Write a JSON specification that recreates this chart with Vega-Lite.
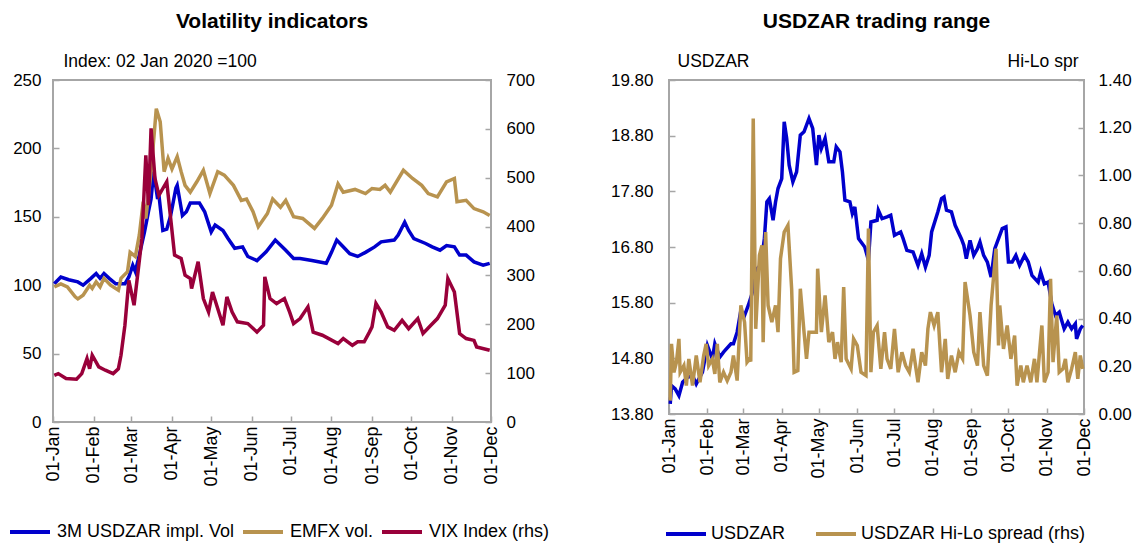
{
"$schema": "https://vega.github.io/schema/vega-lite/v6.json",
"background": "white",
"padding": {"left": 7, "top": 10, "right": 5, "bottom": 5},
"spacing": 58,
"config": {
  "font": "Liberation Sans",
  "view": {"stroke": "#A6A6A6", "strokeWidth": 2},
  "axis": {"domain": false, "grid": false, "labelFont": "Liberation Sans", "labelFontSize": 17, "labelColor": "#000000", "tickColor": "#A6A6A6", "tickSize": -6, "tickWidth": 1.5, "titleFont": "Liberation Sans", "titleFontWeight": "normal", "titleFontSize": 17.5, "titleColor": "#000000"},
  "title": {"font": "Liberation Sans", "fontSize": 21, "fontWeight": "bold", "color": "#000000", "anchor": "middle", "offset": 20},
  "legend": {"labelFont": "Liberation Sans", "labelFontSize": 18, "labelColor": "#000000", "labelLimit": 400}
},
"resolve": {"scale": {"color": "independent"}},
"datasets": {
"left": [
{"d":"2020/01/02","s":"3M USDZAR impl. Vol","v":101},{"d":"2020/01/07","s":"3M USDZAR impl. Vol","v":106},{"d":"2020/01/13","s":"3M USDZAR impl. Vol","v":104},{"d":"2020/01/20","s":"3M USDZAR impl. Vol","v":102.4},{"d":"2020/01/24","s":"3M USDZAR impl. Vol","v":100},{"d":"2020/01/30","s":"3M USDZAR impl. Vol","v":105},{"d":"2020/02/03","s":"3M USDZAR impl. Vol","v":108.5},{"d":"2020/02/06","s":"3M USDZAR impl. Vol","v":105},{"d":"2020/02/09","s":"3M USDZAR impl. Vol","v":108.5},{"d":"2020/02/13","s":"3M USDZAR impl. Vol","v":105},{"d":"2020/02/18","s":"3M USDZAR impl. Vol","v":101},{"d":"2020/02/25","s":"3M USDZAR impl. Vol","v":101},{"d":"2020/02/28","s":"3M USDZAR impl. Vol","v":106},{"d":"2020/03/02","s":"3M USDZAR impl. Vol","v":114.6},{"d":"2020/03/04","s":"3M USDZAR impl. Vol","v":110},{"d":"2020/03/07","s":"3M USDZAR impl. Vol","v":122},{"d":"2020/03/11","s":"3M USDZAR impl. Vol","v":139},{"d":"2020/03/14","s":"3M USDZAR impl. Vol","v":153.7},{"d":"2020/03/16","s":"3M USDZAR impl. Vol","v":163},{"d":"2020/03/18","s":"3M USDZAR impl. Vol","v":183},{"d":"2020/03/21","s":"3M USDZAR impl. Vol","v":163},{"d":"2020/03/22","s":"3M USDZAR impl. Vol","v":166},{"d":"2020/03/25","s":"3M USDZAR impl. Vol","v":140},{"d":"2020/03/28","s":"3M USDZAR impl. Vol","v":141},{"d":"2020/03/31","s":"3M USDZAR impl. Vol","v":151},{"d":"2020/04/04","s":"3M USDZAR impl. Vol","v":171},{"d":"2020/04/05","s":"3M USDZAR impl. Vol","v":173},{"d":"2020/04/09","s":"3M USDZAR impl. Vol","v":151},{"d":"2020/04/12","s":"3M USDZAR impl. Vol","v":153.7},{"d":"2020/04/15","s":"3M USDZAR impl. Vol","v":160},{"d":"2020/04/22","s":"3M USDZAR impl. Vol","v":160},{"d":"2020/04/26","s":"3M USDZAR impl. Vol","v":153.7},{"d":"2020/05/01","s":"3M USDZAR impl. Vol","v":139},{"d":"2020/05/04","s":"3M USDZAR impl. Vol","v":144},{"d":"2020/05/10","s":"3M USDZAR impl. Vol","v":140},{"d":"2020/05/14","s":"3M USDZAR impl. Vol","v":134},{"d":"2020/05/19","s":"3M USDZAR impl. Vol","v":127},{"d":"2020/05/25","s":"3M USDZAR impl. Vol","v":128},{"d":"2020/05/29","s":"3M USDZAR impl. Vol","v":121},{"d":"2020/06/05","s":"3M USDZAR impl. Vol","v":118},{"d":"2020/06/12","s":"3M USDZAR impl. Vol","v":124.4},{"d":"2020/06/19","s":"3M USDZAR impl. Vol","v":133},{"d":"2020/06/27","s":"3M USDZAR impl. Vol","v":125.6},{"d":"2020/07/03","s":"3M USDZAR impl. Vol","v":119.5},{"d":"2020/07/08","s":"3M USDZAR impl. Vol","v":119.5},{"d":"2020/07/17","s":"3M USDZAR impl. Vol","v":118},{"d":"2020/07/28","s":"3M USDZAR impl. Vol","v":116},{"d":"2020/08/01","s":"3M USDZAR impl. Vol","v":124},{"d":"2020/08/05","s":"3M USDZAR impl. Vol","v":133},{"d":"2020/08/09","s":"3M USDZAR impl. Vol","v":129},{"d":"2020/08/15","s":"3M USDZAR impl. Vol","v":123},{"d":"2020/08/21","s":"3M USDZAR impl. Vol","v":121},{"d":"2020/08/27","s":"3M USDZAR impl. Vol","v":124},{"d":"2020/09/03","s":"3M USDZAR impl. Vol","v":128},{"d":"2020/09/08","s":"3M USDZAR impl. Vol","v":131.7},{"d":"2020/09/18","s":"3M USDZAR impl. Vol","v":133},{"d":"2020/09/21","s":"3M USDZAR impl. Vol","v":136.6},{"d":"2020/09/26","s":"3M USDZAR impl. Vol","v":146},{"d":"2020/09/29","s":"3M USDZAR impl. Vol","v":140},{"d":"2020/10/03","s":"3M USDZAR impl. Vol","v":134},{"d":"2020/10/12","s":"3M USDZAR impl. Vol","v":130.5},{"d":"2020/10/17","s":"3M USDZAR impl. Vol","v":128},{"d":"2020/10/23","s":"3M USDZAR impl. Vol","v":125.6},{"d":"2020/10/28","s":"3M USDZAR impl. Vol","v":129},{"d":"2020/11/03","s":"3M USDZAR impl. Vol","v":128},{"d":"2020/11/07","s":"3M USDZAR impl. Vol","v":122},{"d":"2020/11/12","s":"3M USDZAR impl. Vol","v":122},{"d":"2020/11/18","s":"3M USDZAR impl. Vol","v":117},{"d":"2020/11/25","s":"3M USDZAR impl. Vol","v":114.6},{"d":"2020/11/30","s":"3M USDZAR impl. Vol","v":116},
{"d":"2020/01/02","s":"EMFX vol.","v":98.8},{"d":"2020/01/07","s":"EMFX vol.","v":101},{"d":"2020/01/12","s":"EMFX vol.","v":98.8},{"d":"2020/01/18","s":"EMFX vol.","v":91.5},{"d":"2020/01/20","s":"EMFX vol.","v":90},{"d":"2020/01/24","s":"EMFX vol.","v":92.7},{"d":"2020/01/29","s":"EMFX vol.","v":100},{"d":"2020/01/31","s":"EMFX vol.","v":97.6},{"d":"2020/02/03","s":"EMFX vol.","v":102.4},{"d":"2020/02/06","s":"EMFX vol.","v":98.8},{"d":"2020/02/09","s":"EMFX vol.","v":105},{"d":"2020/02/14","s":"EMFX vol.","v":100},{"d":"2020/02/20","s":"EMFX vol.","v":96.3},{"d":"2020/02/22","s":"EMFX vol.","v":105},{"d":"2020/02/27","s":"EMFX vol.","v":109.8},{"d":"2020/02/29","s":"EMFX vol.","v":124},{"d":"2020/03/04","s":"EMFX vol.","v":121},{"d":"2020/03/07","s":"EMFX vol.","v":136.6},{"d":"2020/03/10","s":"EMFX vol.","v":161},{"d":"2020/03/12","s":"EMFX vol.","v":148.8},{"d":"2020/03/16","s":"EMFX vol.","v":183},{"d":"2020/03/20","s":"EMFX vol.","v":229},{"d":"2020/03/23","s":"EMFX vol.","v":219.5},{"d":"2020/03/26","s":"EMFX vol.","v":183},{"d":"2020/03/29","s":"EMFX vol.","v":192.7},{"d":"2020/04/01","s":"EMFX vol.","v":185},{"d":"2020/04/05","s":"EMFX vol.","v":194},{"d":"2020/04/08","s":"EMFX vol.","v":183},{"d":"2020/04/11","s":"EMFX vol.","v":173},{"d":"2020/04/15","s":"EMFX vol.","v":168},{"d":"2020/04/20","s":"EMFX vol.","v":175.6},{"d":"2020/04/25","s":"EMFX vol.","v":184},{"d":"2020/04/30","s":"EMFX vol.","v":167},{"d":"2020/05/06","s":"EMFX vol.","v":183},{"d":"2020/05/11","s":"EMFX vol.","v":180.5},{"d":"2020/05/18","s":"EMFX vol.","v":173},{"d":"2020/05/24","s":"EMFX vol.","v":162},{"d":"2020/05/28","s":"EMFX vol.","v":163},{"d":"2020/06/02","s":"EMFX vol.","v":153.7},{"d":"2020/06/06","s":"EMFX vol.","v":142.7},{"d":"2020/06/13","s":"EMFX vol.","v":152.4},{"d":"2020/06/17","s":"EMFX vol.","v":163},{"d":"2020/06/23","s":"EMFX vol.","v":157},{"d":"2020/06/27","s":"EMFX vol.","v":162},{"d":"2020/07/03","s":"EMFX vol.","v":150},{"d":"2020/07/10","s":"EMFX vol.","v":148.8},{"d":"2020/07/19","s":"EMFX vol.","v":141.5},{"d":"2020/07/25","s":"EMFX vol.","v":148.8},{"d":"2020/08/01","s":"EMFX vol.","v":158.5},{"d":"2020/08/06","s":"EMFX vol.","v":174},{"d":"2020/08/10","s":"EMFX vol.","v":168},{"d":"2020/08/19","s":"EMFX vol.","v":170},{"d":"2020/08/27","s":"EMFX vol.","v":167},{"d":"2020/09/01","s":"EMFX vol.","v":170.7},{"d":"2020/09/07","s":"EMFX vol.","v":170},{"d":"2020/09/11","s":"EMFX vol.","v":173},{"d":"2020/09/15","s":"EMFX vol.","v":168},{"d":"2020/09/25","s":"EMFX vol.","v":184},{"d":"2020/10/02","s":"EMFX vol.","v":178},{"d":"2020/10/09","s":"EMFX vol.","v":173},{"d":"2020/10/14","s":"EMFX vol.","v":167},{"d":"2020/10/21","s":"EMFX vol.","v":164.6},{"d":"2020/10/28","s":"EMFX vol.","v":175.6},{"d":"2020/11/03","s":"EMFX vol.","v":178},{"d":"2020/11/05","s":"EMFX vol.","v":161},{"d":"2020/11/12","s":"EMFX vol.","v":162},{"d":"2020/11/18","s":"EMFX vol.","v":156},{"d":"2020/11/25","s":"EMFX vol.","v":153.7},{"d":"2020/11/30","s":"EMFX vol.","v":151},
{"d":"2020/01/02","s":"VIX Index (rhs)","v":95.6},{"d":"2020/01/05","s":"VIX Index (rhs)","v":99},{"d":"2020/01/11","s":"VIX Index (rhs)","v":89},{"d":"2020/01/19","s":"VIX Index (rhs)","v":87.4},{"d":"2020/01/23","s":"VIX Index (rhs)","v":99},{"d":"2020/01/27","s":"VIX Index (rhs)","v":129.8},{"d":"2020/01/29","s":"VIX Index (rhs)","v":109},{"d":"2020/01/31","s":"VIX Index (rhs)","v":136.6},{"d":"2020/02/05","s":"VIX Index (rhs)","v":112.7},{"d":"2020/02/10","s":"VIX Index (rhs)","v":106},{"d":"2020/02/16","s":"VIX Index (rhs)","v":99},{"d":"2020/02/20","s":"VIX Index (rhs)","v":109},{"d":"2020/02/22","s":"VIX Index (rhs)","v":136.6},{"d":"2020/02/25","s":"VIX Index (rhs)","v":198},{"d":"2020/02/28","s":"VIX Index (rhs)","v":290},{"d":"2020/03/03","s":"VIX Index (rhs)","v":239},{"d":"2020/03/06","s":"VIX Index (rhs)","v":307},{"d":"2020/03/09","s":"VIX Index (rhs)","v":375.7},{"d":"2020/03/12","s":"VIX Index (rhs)","v":546},{"d":"2020/03/14","s":"VIX Index (rhs)","v":444},{"d":"2020/03/16","s":"VIX Index (rhs)","v":601},{"d":"2020/03/19","s":"VIX Index (rhs)","v":498.6},{"d":"2020/03/22","s":"VIX Index (rhs)","v":464},{"d":"2020/03/28","s":"VIX Index (rhs)","v":491.8},{"d":"2020/04/03","s":"VIX Index (rhs)","v":341.5},{"d":"2020/04/08","s":"VIX Index (rhs)","v":334.7},{"d":"2020/04/11","s":"VIX Index (rhs)","v":300.5},{"d":"2020/04/15","s":"VIX Index (rhs)","v":293.7},{"d":"2020/04/16","s":"VIX Index (rhs)","v":273},{"d":"2020/04/21","s":"VIX Index (rhs)","v":328},{"d":"2020/04/25","s":"VIX Index (rhs)","v":252.7},{"d":"2020/04/29","s":"VIX Index (rhs)","v":225},{"d":"2020/05/02","s":"VIX Index (rhs)","v":266},{"d":"2020/05/10","s":"VIX Index (rhs)","v":198},{"d":"2020/05/13","s":"VIX Index (rhs)","v":256},{"d":"2020/05/17","s":"VIX Index (rhs)","v":225},{"d":"2020/05/21","s":"VIX Index (rhs)","v":205},{"d":"2020/05/29","s":"VIX Index (rhs)","v":201.5},{"d":"2020/06/05","s":"VIX Index (rhs)","v":184},{"d":"2020/06/10","s":"VIX Index (rhs)","v":198},{"d":"2020/06/11","s":"VIX Index (rhs)","v":297},{"d":"2020/06/15","s":"VIX Index (rhs)","v":252.7},{"d":"2020/06/20","s":"VIX Index (rhs)","v":242.5},{"d":"2020/06/26","s":"VIX Index (rhs)","v":252.7},{"d":"2020/06/30","s":"VIX Index (rhs)","v":225},{"d":"2020/07/03","s":"VIX Index (rhs)","v":201.5},{"d":"2020/07/08","s":"VIX Index (rhs)","v":211.7},{"d":"2020/07/14","s":"VIX Index (rhs)","v":235.7},{"d":"2020/07/18","s":"VIX Index (rhs)","v":184},{"d":"2020/07/25","s":"VIX Index (rhs)","v":177.6},{"d":"2020/08/06","s":"VIX Index (rhs)","v":160.5},{"d":"2020/08/10","s":"VIX Index (rhs)","v":170.8},{"d":"2020/08/17","s":"VIX Index (rhs)","v":157},{"d":"2020/08/21","s":"VIX Index (rhs)","v":164},{"d":"2020/08/26","s":"VIX Index (rhs)","v":164},{"d":"2020/08/30","s":"VIX Index (rhs)","v":184},{"d":"2020/09/01","s":"VIX Index (rhs)","v":194.7},{"d":"2020/09/04","s":"VIX Index (rhs)","v":242.5},{"d":"2020/09/08","s":"VIX Index (rhs)","v":225},{"d":"2020/09/13","s":"VIX Index (rhs)","v":194.7},{"d":"2020/09/18","s":"VIX Index (rhs)","v":187.8},{"d":"2020/09/24","s":"VIX Index (rhs)","v":208},{"d":"2020/09/29","s":"VIX Index (rhs)","v":191},{"d":"2020/10/06","s":"VIX Index (rhs)","v":211.7},{"d":"2020/10/10","s":"VIX Index (rhs)","v":181},{"d":"2020/10/16","s":"VIX Index (rhs)","v":198},{"d":"2020/10/21","s":"VIX Index (rhs)","v":211.7},{"d":"2020/10/27","s":"VIX Index (rhs)","v":239},{"d":"2020/10/29","s":"VIX Index (rhs)","v":293.7},{"d":"2020/11/03","s":"VIX Index (rhs)","v":266},{"d":"2020/11/07","s":"VIX Index (rhs)","v":181},{"d":"2020/11/12","s":"VIX Index (rhs)","v":170.8},{"d":"2020/11/18","s":"VIX Index (rhs)","v":167},{"d":"2020/11/20","s":"VIX Index (rhs)","v":153.7},{"d":"2020/11/30","s":"VIX Index (rhs)","v":147}
],
"right": [
{"d":"2020/01/02","s":"USDZAR","v":13.98},{"d":"2020/01/03","s":"USDZAR","v":14.31},{"d":"2020/01/06","s":"USDZAR","v":14.25},{"d":"2020/01/09","s":"USDZAR","v":14.13},{"d":"2020/01/12","s":"USDZAR","v":14.37},{"d":"2020/01/16","s":"USDZAR","v":14.46},{"d":"2020/01/20","s":"USDZAR","v":14.49},{"d":"2020/01/23","s":"USDZAR","v":14.34},{"d":"2020/01/28","s":"USDZAR","v":14.55},{"d":"2020/02/01","s":"USDZAR","v":15.03},{"d":"2020/02/05","s":"USDZAR","v":14.79},{"d":"2020/02/07","s":"USDZAR","v":15.06},{"d":"2020/02/11","s":"USDZAR","v":14.82},{"d":"2020/02/14","s":"USDZAR","v":14.91},{"d":"2020/02/20","s":"USDZAR","v":15.06},{"d":"2020/02/22","s":"USDZAR","v":15.06},{"d":"2020/02/25","s":"USDZAR","v":15.27},{"d":"2020/02/28","s":"USDZAR","v":15.66},{"d":"2020/03/02","s":"USDZAR","v":15.57},{"d":"2020/03/05","s":"USDZAR","v":15.75},{"d":"2020/03/08","s":"USDZAR","v":15.96},{"d":"2020/03/12","s":"USDZAR","v":16.41},{"d":"2020/03/15","s":"USDZAR","v":16.47},{"d":"2020/03/18","s":"USDZAR","v":16.95},{"d":"2020/03/20","s":"USDZAR","v":17.61},{"d":"2020/03/22","s":"USDZAR","v":17.67},{"d":"2020/03/25","s":"USDZAR","v":17.28},{"d":"2020/03/27","s":"USDZAR","v":17.61},{"d":"2020/03/29","s":"USDZAR","v":17.85},{"d":"2020/04/01","s":"USDZAR","v":18.03},{"d":"2020/04/03","s":"USDZAR","v":19.05},{"d":"2020/04/05","s":"USDZAR","v":18.75},{"d":"2020/04/07","s":"USDZAR","v":18.27},{"d":"2020/04/10","s":"USDZAR","v":17.97},{"d":"2020/04/13","s":"USDZAR","v":18.15},{"d":"2020/04/16","s":"USDZAR","v":18.81},{"d":"2020/04/19","s":"USDZAR","v":18.87},{"d":"2020/04/23","s":"USDZAR","v":19.11},{"d":"2020/04/26","s":"USDZAR","v":18.93},{"d":"2020/04/29","s":"USDZAR","v":18.27},{"d":"2020/05/01","s":"USDZAR","v":18.81},{"d":"2020/05/03","s":"USDZAR","v":18.57},{"d":"2020/05/06","s":"USDZAR","v":18.75},{"d":"2020/05/09","s":"USDZAR","v":18.33},{"d":"2020/05/13","s":"USDZAR","v":18.33},{"d":"2020/05/15","s":"USDZAR","v":18.6},{"d":"2020/05/18","s":"USDZAR","v":18.51},{"d":"2020/05/20","s":"USDZAR","v":18.15},{"d":"2020/05/22","s":"USDZAR","v":17.64},{"d":"2020/05/26","s":"USDZAR","v":17.61},{"d":"2020/05/28","s":"USDZAR","v":17.4},{"d":"2020/05/30","s":"USDZAR","v":17.52},{"d":"2020/06/02","s":"USDZAR","v":16.95},{"d":"2020/06/07","s":"USDZAR","v":16.8},{"d":"2020/06/10","s":"USDZAR","v":16.56},{"d":"2020/06/12","s":"USDZAR","v":17.25},{"d":"2020/06/17","s":"USDZAR","v":17.28},{"d":"2020/06/18","s":"USDZAR","v":17.46},{"d":"2020/06/21","s":"USDZAR","v":17.31},{"d":"2020/06/25","s":"USDZAR","v":17.34},{"d":"2020/06/28","s":"USDZAR","v":17.37},{"d":"2020/07/01","s":"USDZAR","v":17.01},{"d":"2020/07/06","s":"USDZAR","v":17.07},{"d":"2020/07/08","s":"USDZAR","v":16.95},{"d":"2020/07/11","s":"USDZAR","v":16.74},{"d":"2020/07/16","s":"USDZAR","v":16.71},{"d":"2020/07/20","s":"USDZAR","v":16.47},{"d":"2020/07/23","s":"USDZAR","v":16.68},{"d":"2020/07/26","s":"USDZAR","v":16.44},{"d":"2020/07/29","s":"USDZAR","v":16.65},{"d":"2020/07/31","s":"USDZAR","v":17.07},{"d":"2020/08/05","s":"USDZAR","v":17.43},{"d":"2020/08/08","s":"USDZAR","v":17.67},{"d":"2020/08/10","s":"USDZAR","v":17.7},{"d":"2020/08/12","s":"USDZAR","v":17.46},{"d":"2020/08/16","s":"USDZAR","v":17.43},{"d":"2020/08/19","s":"USDZAR","v":17.19},{"d":"2020/08/24","s":"USDZAR","v":16.95},{"d":"2020/08/26","s":"USDZAR","v":16.83},{"d":"2020/08/28","s":"USDZAR","v":16.59},{"d":"2020/08/31","s":"USDZAR","v":16.92},{"d":"2020/09/03","s":"USDZAR","v":16.65},{"d":"2020/09/06","s":"USDZAR","v":16.77},{"d":"2020/09/08","s":"USDZAR","v":16.89},{"d":"2020/09/11","s":"USDZAR","v":16.65},{"d":"2020/09/14","s":"USDZAR","v":16.53},{"d":"2020/09/17","s":"USDZAR","v":16.26},{"d":"2020/09/20","s":"USDZAR","v":16.77},{"d":"2020/09/23","s":"USDZAR","v":16.95},{"d":"2020/09/26","s":"USDZAR","v":17.13},{"d":"2020/09/29","s":"USDZAR","v":17.16},{"d":"2020/10/01","s":"USDZAR","v":16.53},{"d":"2020/10/04","s":"USDZAR","v":16.53},{"d":"2020/10/07","s":"USDZAR","v":16.65},{"d":"2020/10/10","s":"USDZAR","v":16.47},{"d":"2020/10/14","s":"USDZAR","v":16.65},{"d":"2020/10/17","s":"USDZAR","v":16.53},{"d":"2020/10/20","s":"USDZAR","v":16.29},{"d":"2020/10/25","s":"USDZAR","v":16.17},{"d":"2020/10/27","s":"USDZAR","v":16.35},{"d":"2020/10/30","s":"USDZAR","v":16.14},{"d":"2020/11/02","s":"USDZAR","v":16.17},{"d":"2020/11/05","s":"USDZAR","v":15.78},{"d":"2020/11/08","s":"USDZAR","v":15.57},{"d":"2020/11/11","s":"USDZAR","v":15.63},{"d":"2020/11/15","s":"USDZAR","v":15.33},{"d":"2020/11/18","s":"USDZAR","v":15.45},{"d":"2020/11/21","s":"USDZAR","v":15.33},{"d":"2020/11/24","s":"USDZAR","v":15.42},{"d":"2020/11/25","s":"USDZAR","v":15.15},{"d":"2020/11/28","s":"USDZAR","v":15.33},{"d":"2020/11/30","s":"USDZAR","v":15.39},
{"d":"2020/01/02","s":"USDZAR Hi-Lo spread (rhs)","v":0.056},{"d":"2020/01/03","s":"USDZAR Hi-Lo spread (rhs)","v":0.294},{"d":"2020/01/05","s":"USDZAR Hi-Lo spread (rhs)","v":0.175},{"d":"2020/01/07","s":"USDZAR Hi-Lo spread (rhs)","v":0.217},{"d":"2020/01/09","s":"USDZAR Hi-Lo spread (rhs)","v":0.315},{"d":"2020/01/10","s":"USDZAR Hi-Lo spread (rhs)","v":0.175},{"d":"2020/01/13","s":"USDZAR Hi-Lo spread (rhs)","v":0.203},{"d":"2020/01/15","s":"USDZAR Hi-Lo spread (rhs)","v":0.119},{"d":"2020/01/17","s":"USDZAR Hi-Lo spread (rhs)","v":0.231},{"d":"2020/01/20","s":"USDZAR Hi-Lo spread (rhs)","v":0.119},{"d":"2020/01/23","s":"USDZAR Hi-Lo spread (rhs)","v":0.245},{"d":"2020/01/26","s":"USDZAR Hi-Lo spread (rhs)","v":0.133},{"d":"2020/01/29","s":"USDZAR Hi-Lo spread (rhs)","v":0.245},{"d":"2020/01/31","s":"USDZAR Hi-Lo spread (rhs)","v":0.294},{"d":"2020/02/02","s":"USDZAR Hi-Lo spread (rhs)","v":0.203},{"d":"2020/02/05","s":"USDZAR Hi-Lo spread (rhs)","v":0.231},{"d":"2020/02/07","s":"USDZAR Hi-Lo spread (rhs)","v":0.168},{"d":"2020/02/09","s":"USDZAR Hi-Lo spread (rhs)","v":0.294},{"d":"2020/02/11","s":"USDZAR Hi-Lo spread (rhs)","v":0.133},{"d":"2020/02/14","s":"USDZAR Hi-Lo spread (rhs)","v":0.175},{"d":"2020/02/17","s":"USDZAR Hi-Lo spread (rhs)","v":0.14},{"d":"2020/02/20","s":"USDZAR Hi-Lo spread (rhs)","v":0.175},{"d":"2020/02/22","s":"USDZAR Hi-Lo spread (rhs)","v":0.245},{"d":"2020/02/25","s":"USDZAR Hi-Lo spread (rhs)","v":0.14},{"d":"2020/02/28","s":"USDZAR Hi-Lo spread (rhs)","v":0.455},{"d":"2020/03/02","s":"USDZAR Hi-Lo spread (rhs)","v":0.385},{"d":"2020/03/04","s":"USDZAR Hi-Lo spread (rhs)","v":0.217},{"d":"2020/03/06","s":"USDZAR Hi-Lo spread (rhs)","v":0.231},{"d":"2020/03/07","s":"USDZAR Hi-Lo spread (rhs)","v":0.22},{"d":"2020/03/09","s":"USDZAR Hi-Lo spread (rhs)","v":1.239},{"d":"2020/03/11","s":"USDZAR Hi-Lo spread (rhs)","v":0.357},{"d":"2020/03/14","s":"USDZAR Hi-Lo spread (rhs)","v":0.665},{"d":"2020/03/16","s":"USDZAR Hi-Lo spread (rhs)","v":0.707},{"d":"2020/03/17","s":"USDZAR Hi-Lo spread (rhs)","v":0.301},{"d":"2020/03/19","s":"USDZAR Hi-Lo spread (rhs)","v":0.763},{"d":"2020/03/21","s":"USDZAR Hi-Lo spread (rhs)","v":0.455},{"d":"2020/03/24","s":"USDZAR Hi-Lo spread (rhs)","v":0.385},{"d":"2020/03/27","s":"USDZAR Hi-Lo spread (rhs)","v":0.455},{"d":"2020/03/29","s":"USDZAR Hi-Lo spread (rhs)","v":0.343},{"d":"2020/03/31","s":"USDZAR Hi-Lo spread (rhs)","v":0.651},{"d":"2020/04/03","s":"USDZAR Hi-Lo spread (rhs)","v":0.763},{"d":"2020/04/06","s":"USDZAR Hi-Lo spread (rhs)","v":0.791},{"d":"2020/04/09","s":"USDZAR Hi-Lo spread (rhs)","v":0.525},{"d":"2020/04/11","s":"USDZAR Hi-Lo spread (rhs)","v":0.175},{"d":"2020/04/14","s":"USDZAR Hi-Lo spread (rhs)","v":0.182},{"d":"2020/04/16","s":"USDZAR Hi-Lo spread (rhs)","v":0.525},{"d":"2020/04/19","s":"USDZAR Hi-Lo spread (rhs)","v":0.343},{"d":"2020/04/21","s":"USDZAR Hi-Lo spread (rhs)","v":0.231},{"d":"2020/04/23","s":"USDZAR Hi-Lo spread (rhs)","v":0.343},{"d":"2020/04/26","s":"USDZAR Hi-Lo spread (rhs)","v":0.343},{"d":"2020/04/29","s":"USDZAR Hi-Lo spread (rhs)","v":0.343},{"d":"2020/04/30","s":"USDZAR Hi-Lo spread (rhs)","v":0.609},{"d":"2020/05/03","s":"USDZAR Hi-Lo spread (rhs)","v":0.343},{"d":"2020/05/06","s":"USDZAR Hi-Lo spread (rhs)","v":0.497},{"d":"2020/05/09","s":"USDZAR Hi-Lo spread (rhs)","v":0.301},{"d":"2020/05/12","s":"USDZAR Hi-Lo spread (rhs)","v":0.343},{"d":"2020/05/14","s":"USDZAR Hi-Lo spread (rhs)","v":0.231},{"d":"2020/05/16","s":"USDZAR Hi-Lo spread (rhs)","v":0.301},{"d":"2020/05/19","s":"USDZAR Hi-Lo spread (rhs)","v":0.217},{"d":"2020/05/21","s":"USDZAR Hi-Lo spread (rhs)","v":0.532},{"d":"2020/05/23","s":"USDZAR Hi-Lo spread (rhs)","v":0.231},{"d":"2020/05/27","s":"USDZAR Hi-Lo spread (rhs)","v":0.189},{"d":"2020/05/29","s":"USDZAR Hi-Lo spread (rhs)","v":0.315},{"d":"2020/06/01","s":"USDZAR Hi-Lo spread (rhs)","v":0.287},{"d":"2020/06/04","s":"USDZAR Hi-Lo spread (rhs)","v":0.175},{"d":"2020/06/08","s":"USDZAR Hi-Lo spread (rhs)","v":0.161},{"d":"2020/06/10","s":"USDZAR Hi-Lo spread (rhs)","v":0.777},{"d":"2020/06/12","s":"USDZAR Hi-Lo spread (rhs)","v":0.175},{"d":"2020/06/14","s":"USDZAR Hi-Lo spread (rhs)","v":0.343},{"d":"2020/06/17","s":"USDZAR Hi-Lo spread (rhs)","v":0.371},{"d":"2020/06/20","s":"USDZAR Hi-Lo spread (rhs)","v":0.189},{"d":"2020/06/23","s":"USDZAR Hi-Lo spread (rhs)","v":0.343},{"d":"2020/06/25","s":"USDZAR Hi-Lo spread (rhs)","v":0.231},{"d":"2020/06/28","s":"USDZAR Hi-Lo spread (rhs)","v":0.189},{"d":"2020/07/01","s":"USDZAR Hi-Lo spread (rhs)","v":0.357},{"d":"2020/07/04","s":"USDZAR Hi-Lo spread (rhs)","v":0.175},{"d":"2020/07/07","s":"USDZAR Hi-Lo spread (rhs)","v":0.259},{"d":"2020/07/10","s":"USDZAR Hi-Lo spread (rhs)","v":0.203},{"d":"2020/07/13","s":"USDZAR Hi-Lo spread (rhs)","v":0.175},{"d":"2020/07/16","s":"USDZAR Hi-Lo spread (rhs)","v":0.273},{"d":"2020/07/20","s":"USDZAR Hi-Lo spread (rhs)","v":0.133},{"d":"2020/07/23","s":"USDZAR Hi-Lo spread (rhs)","v":0.259},{"d":"2020/07/26","s":"USDZAR Hi-Lo spread (rhs)","v":0.203},{"d":"2020/07/28","s":"USDZAR Hi-Lo spread (rhs)","v":0.357},{"d":"2020/07/30","s":"USDZAR Hi-Lo spread (rhs)","v":0.427},{"d":"2020/08/02","s":"USDZAR Hi-Lo spread (rhs)","v":0.371},{"d":"2020/08/05","s":"USDZAR Hi-Lo spread (rhs)","v":0.427},{"d":"2020/08/08","s":"USDZAR Hi-Lo spread (rhs)","v":0.175},{"d":"2020/08/11","s":"USDZAR Hi-Lo spread (rhs)","v":0.315},{"d":"2020/08/13","s":"USDZAR Hi-Lo spread (rhs)","v":0.147},{"d":"2020/08/16","s":"USDZAR Hi-Lo spread (rhs)","v":0.245},{"d":"2020/08/19","s":"USDZAR Hi-Lo spread (rhs)","v":0.175},{"d":"2020/08/22","s":"USDZAR Hi-Lo spread (rhs)","v":0.259},{"d":"2020/08/25","s":"USDZAR Hi-Lo spread (rhs)","v":0.231},{"d":"2020/08/27","s":"USDZAR Hi-Lo spread (rhs)","v":0.553},{"d":"2020/08/31","s":"USDZAR Hi-Lo spread (rhs)","v":0.413},{"d":"2020/09/03","s":"USDZAR Hi-Lo spread (rhs)","v":0.259},{"d":"2020/09/06","s":"USDZAR Hi-Lo spread (rhs)","v":0.203},{"d":"2020/09/08","s":"USDZAR Hi-Lo spread (rhs)","v":0.427},{"d":"2020/09/11","s":"USDZAR Hi-Lo spread (rhs)","v":0.203},{"d":"2020/09/14","s":"USDZAR Hi-Lo spread (rhs)","v":0.161},{"d":"2020/09/17","s":"USDZAR Hi-Lo spread (rhs)","v":0.455},{"d":"2020/09/21","s":"USDZAR Hi-Lo spread (rhs)","v":0.693},{"d":"2020/09/23","s":"USDZAR Hi-Lo spread (rhs)","v":0.287},{"d":"2020/09/24","s":"USDZAR Hi-Lo spread (rhs)","v":0.455},{"d":"2020/09/27","s":"USDZAR Hi-Lo spread (rhs)","v":0.273},{"d":"2020/09/30","s":"USDZAR Hi-Lo spread (rhs)","v":0.371},{"d":"2020/10/03","s":"USDZAR Hi-Lo spread (rhs)","v":0.231},{"d":"2020/10/06","s":"USDZAR Hi-Lo spread (rhs)","v":0.329},{"d":"2020/10/08","s":"USDZAR Hi-Lo spread (rhs)","v":0.119},{"d":"2020/10/11","s":"USDZAR Hi-Lo spread (rhs)","v":0.203},{"d":"2020/10/13","s":"USDZAR Hi-Lo spread (rhs)","v":0.133},{"d":"2020/10/16","s":"USDZAR Hi-Lo spread (rhs)","v":0.203},{"d":"2020/10/19","s":"USDZAR Hi-Lo spread (rhs)","v":0.133},{"d":"2020/10/22","s":"USDZAR Hi-Lo spread (rhs)","v":0.231},{"d":"2020/10/24","s":"USDZAR Hi-Lo spread (rhs)","v":0.133},{"d":"2020/10/28","s":"USDZAR Hi-Lo spread (rhs)","v":0.371},{"d":"2020/10/30","s":"USDZAR Hi-Lo spread (rhs)","v":0.133},{"d":"2020/11/02","s":"USDZAR Hi-Lo spread (rhs)","v":0.175},{"d":"2020/11/04","s":"USDZAR Hi-Lo spread (rhs)","v":0.567},{"d":"2020/11/06","s":"USDZAR Hi-Lo spread (rhs)","v":0.217},{"d":"2020/11/09","s":"USDZAR Hi-Lo spread (rhs)","v":0.413},{"d":"2020/11/11","s":"USDZAR Hi-Lo spread (rhs)","v":0.175},{"d":"2020/11/14","s":"USDZAR Hi-Lo spread (rhs)","v":0.189},{"d":"2020/11/16","s":"USDZAR Hi-Lo spread (rhs)","v":0.231},{"d":"2020/11/18","s":"USDZAR Hi-Lo spread (rhs)","v":0.133},{"d":"2020/11/21","s":"USDZAR Hi-Lo spread (rhs)","v":0.189},{"d":"2020/11/24","s":"USDZAR Hi-Lo spread (rhs)","v":0.259},{"d":"2020/11/26","s":"USDZAR Hi-Lo spread (rhs)","v":0.147},{"d":"2020/11/28","s":"USDZAR Hi-Lo spread (rhs)","v":0.245},{"d":"2020/11/30","s":"USDZAR Hi-Lo spread (rhs)","v":0.189}
]
},
"hconcat": [
{
  "width": 438, "height": 342,
  "title": {"text": "Volatility indicators"},
  "data": {"name": "left"},
  "encoding": {
    "x": {"field": "d", "type": "temporal",
      "scale": {"domain": [{"year": 2020, "month": 1, "date": 1}, {"year": 2020, "month": 12, "date": 1}]},
      "axis": {"title": null, "format": "%d-%b", "labelAngle": -90, "labelFontSize": 18, "labelPadding": 10,
        "values": [{"year":2020,"month":1,"date":1},{"year":2020,"month":2,"date":1},{"year":2020,"month":3,"date":1},{"year":2020,"month":4,"date":1},{"year":2020,"month":5,"date":1},{"year":2020,"month":6,"date":1},{"year":2020,"month":7,"date":1},{"year":2020,"month":8,"date":1},{"year":2020,"month":9,"date":1},{"year":2020,"month":10,"date":1},{"year":2020,"month":11,"date":1},{"year":2020,"month":12,"date":1}]}},
    "color": {"field": "s", "type": "nominal",
      "scale": {"domain": ["3M USDZAR impl. Vol", "EMFX vol.", "VIX Index (rhs)"], "range": ["#0000CC", "#B8934F", "#99003A"]},
      "legend": {"orient": "none", "legendX": -45, "legendY": 430, "direction": "horizontal", "title": null, "symbolType": "stroke", "symbolSize": 1600, "symbolStrokeWidth": 4, "columnPadding": 0, "labelOffset": 5, "padding": 0}}
  },
  "layer": [
    {"transform": [{"filter": "datum.s != 'VIX Index (rhs)'"}],
     "mark": {"type": "line", "strokeWidth": 3.5},
     "encoding": {"y": {"field": "v", "type": "quantitative", "scale": {"domain": [0, 250], "nice": false},
       "axis": {"orient": "left", "values": [0, 50, 100, 150, 200, 250], "labelPadding": 18,
         "title": "Index: 02 Jan 2020 =100", "titleAngle": 0, "titleAlign": "left", "titleBaseline": "middle", "titleX": 10, "titleY": -19}}}},
    {"transform": [{"filter": "datum.s == 'VIX Index (rhs)'"}],
     "mark": {"type": "line", "strokeWidth": 3.5},
     "encoding": {"y": {"field": "v", "type": "quantitative", "scale": {"domain": [0, 700], "nice": false},
       "axis": {"orient": "right", "values": [0, 100, 200, 300, 400, 500, 600, 700], "labelPadding": 21, "title": null}}}}
  ],
  "resolve": {"scale": {"y": "independent"}}
},
{
  "width": 415, "height": 334,
  "title": {"text": "USDZAR trading range"},
  "data": {"name": "right"},
  "encoding": {
    "x": {"field": "d", "type": "temporal",
      "scale": {"domain": [{"year": 2020, "month": 1, "date": 1}, {"year": 2020, "month": 12, "date": 1}]},
      "axis": {"title": null, "format": "%d-%b", "labelAngle": -90, "labelFontSize": 18, "labelPadding": 10,
        "values": [{"year":2020,"month":1,"date":1},{"year":2020,"month":2,"date":1},{"year":2020,"month":3,"date":1},{"year":2020,"month":4,"date":1},{"year":2020,"month":5,"date":1},{"year":2020,"month":6,"date":1},{"year":2020,"month":7,"date":1},{"year":2020,"month":8,"date":1},{"year":2020,"month":9,"date":1},{"year":2020,"month":10,"date":1},{"year":2020,"month":11,"date":1},{"year":2020,"month":12,"date":1}]}},
    "color": {"field": "s", "type": "nominal",
      "scale": {"domain": ["USDZAR", "USDZAR Hi-Lo spread (rhs)"], "range": ["#0000CC", "#B8934F"]},
      "legend": {"orient": "none", "legendX": -5, "legendY": 432, "direction": "horizontal", "title": null, "symbolType": "stroke", "symbolSize": 1600, "symbolStrokeWidth": 4, "columnPadding": 22, "labelOffset": 3, "padding": 0}}
  },
  "layer": [
    {"transform": [{"filter": "datum.s == 'USDZAR'"}],
     "mark": {"type": "line", "strokeWidth": 3.5},
     "encoding": {"y": {"field": "v", "type": "quantitative", "scale": {"domain": [13.8, 19.8], "nice": false, "zero": false},
       "axis": {"orient": "left", "values": [13.8, 14.8, 15.8, 16.8, 17.8, 18.8, 19.8], "format": ".2f", "labelPadding": 22,
         "title": "USDZAR", "titleAngle": 0, "titleAlign": "left", "titleBaseline": "middle", "titleX": 8, "titleY": -19}}}},
    {"transform": [{"filter": "datum.s != 'USDZAR'"}],
     "mark": {"type": "line", "strokeWidth": 3.5},
     "encoding": {"y": {"field": "v", "type": "quantitative", "scale": {"domain": [0, 1.4], "nice": false},
       "axis": {"orient": "right", "values": [0, 0.2, 0.4, 0.6, 0.8, 1.0, 1.2, 1.4], "format": ".2f", "labelPadding": 20,
         "title": "Hi-Lo spr", "titleAngle": 0, "titleAlign": "right", "titleBaseline": "middle", "titleX": -6, "titleY": -19}}}}
  ],
  "resolve": {"scale": {"y": "independent"}}
}
]
}
